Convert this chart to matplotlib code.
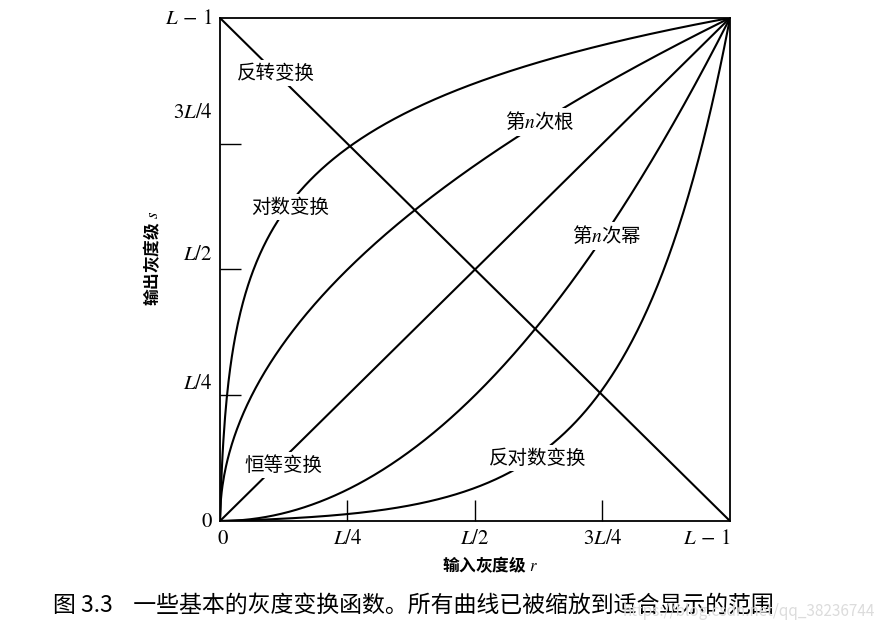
import numpy as np
import matplotlib.pyplot as plt

plt.rcParams['font.family'] = ['Noto Sans CJK SC', 'DejaVu Sans']
plt.rcParams['mathtext.fontset'] = 'stix'

# transfer function parameters
log_c = 200.0        # s = log(1 + c r) / log(1 + c)
root_gamma = 0.5     # s = r ** (1/n)
power_gamma = 2.0    # s = r ** n

y_tick_pos = [0.25, 0.5, 0.75]
x_tick_pos = [0.25, 0.5, 0.75]
x_tick_labels = ['$0$', '$L/4$', '$L/2$', '$3L/4$', r'$L\,-\,1$']
y_tick_labels = ['$0$', '$L/4$', '$L/2$', '$3L/4$', r'$L\,-\,1$']

r = np.linspace(0, 1, 600)
curves = {
    'negative': 1 - r,
    'identity': r,
    'log': np.log1p(log_c * r) / np.log1p(log_c),
    'inv_log': ((1 + log_c) ** r - 1) / log_c,
    'root': r ** root_gamma,
    'power': r ** power_gamma,
}

fig = plt.figure(figsize=(8.87, 6.32), dpi=100)
ax = fig.add_axes([0.248, 0.1756, 0.575, 0.796])

for name, s in curves.items():
    ax.plot(r, s, color='black', lw=1.5, solid_capstyle='butt')

ax.set_xlim(0, 1)
ax.set_ylim(0, 1)
for sp in ax.spines.values():
    sp.set_linewidth(1.3)
ax.set_xticks(x_tick_pos)
ax.set_yticks(y_tick_pos)
ax.set_xticklabels([])
ax.set_yticklabels([])
ax.tick_params(direction='in', length=15, width=1.0)

# tick labels (y labels sit a bit above their ticks in the original)
xl_pos = [0.005, 0.25, 0.5, 0.75, 0.955]
for x, t in zip(xl_pos, x_tick_labels):
    ax.text(x, -0.012, t, ha='center', va='top', fontsize=15,
            transform=ax.transAxes)
yl_pos = [0.0, 0.274, 0.531, 0.813, 1.0]
for y, t in zip(yl_pos, y_tick_labels):
    ax.text(-0.014, y, t, ha='right', va='center', fontsize=15,
            transform=ax.transAxes)

box = dict(facecolor='white', edgecolor='none', pad=2)
labels = [
    (276, 73, '反转变换'),
    (290, 207, '对数变换'),
    (540, 122, '第$n$次根'),
    (607, 236, '第$n$次幂'),
    (283, 465, '恒等变换'),
    (538, 458, '反对数变换'),
]
for px, py, t in labels:
    x = (px - 220) / 510
    y = (521 - py) / 503
    ax.text(x, y, t, ha='center', va='center', fontsize=14, bbox=box)

fig.text(490 / 887, 1 - 565 / 632, '输入灰度级 $r$', ha='center', va='center',
         fontsize=12, fontweight='bold')
fig.text(152 / 887, 1 - 258 / 632, '输出灰度级 $s$', ha='center', va='center',
         fontsize=12, fontweight='bold', rotation=90)

fig.text(53 / 887, 1 - 605 / 632,
         '图 3.3    一些基本的灰度变换函数。所有曲线已被缩放到适合显示的范围',
         ha='left', va='center', fontsize=16.5)
fig.text(875 / 887, 1 - 612 / 632, 'https://blog.csdn.net/qq_38236744',
         ha='right', va='center', fontsize=11, color='#dcdcdc')

fig.savefig('out.png', dpi=100)
